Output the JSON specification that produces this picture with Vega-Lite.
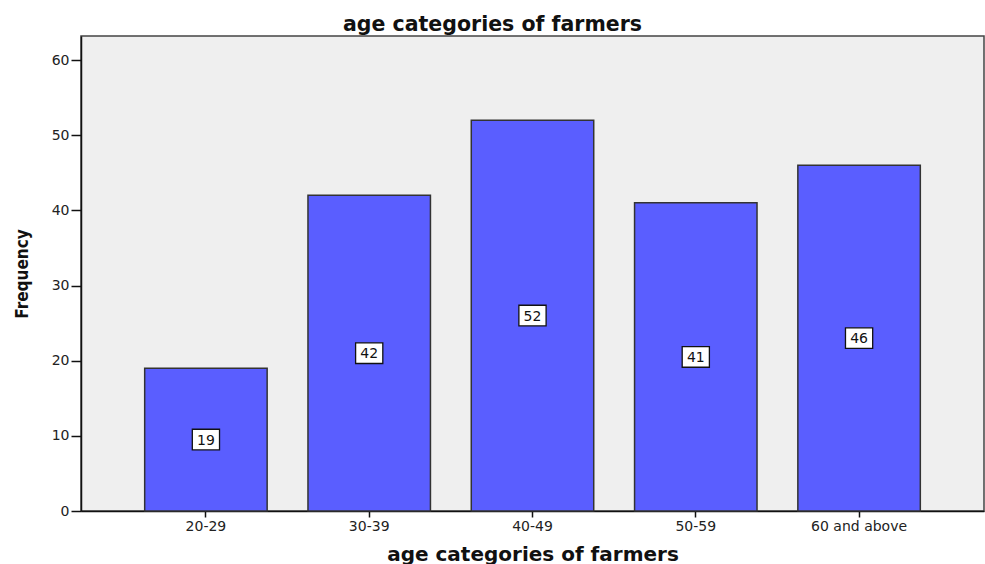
{
  "$schema": "https://vega.github.io/schema/vega-lite/v6.json",
  "autosize": {"type": "none"},
  "padding": {"left": 81, "top": 36, "right": 1, "bottom": 53},
  "width": 903,
  "height": 475,
  "background": "white",
  "title": {
    "text": "age categories of farmers",
    "font": "DejaVu Sans",
    "fontSize": 20.5,
    "fontWeight": "bold",
    "color": "#111",
    "anchor": "middle",
    "frame": "group",
    "baseline": "bottom",
    "offset": 5,
    "dx": -40,
    "dy": 24
  },
  "config": {
    "view": {"fill": "#EFEFEF", "stroke": "#444", "strokeWidth": 1.5},
    "axis": {
      "grid": false,
      "domainColor": "#111",
      "domainWidth": 1.5,
      "tickColor": "#111",
      "tickWidth": 1.5,
      "labelFont": "DejaVu Sans",
      "labelFontSize": 14,
      "labelColor": "#222",
      "titleFont": "DejaVu Sans",
      "titleFontWeight": "bold",
      "titleColor": "#111"
    }
  },
  "data": {
    "values": [
      {"age": "20-29", "frequency": 19},
      {"age": "30-39", "frequency": 42},
      {"age": "40-49", "frequency": 52},
      {"age": "50-59", "frequency": 41},
      {"age": "60 and above", "frequency": 46}
    ]
  },
  "encoding": {
    "x": {
      "field": "age",
      "type": "nominal",
      "sort": null,
      "scale": {"paddingInner": 0.25, "paddingOuter": 0.39},
      "axis": {
        "title": "age categories of farmers",
        "titleFontSize": 20,
        "titleBaseline": "alphabetic",
        "titleY": 49,
        "labelAngle": 0,
        "tickSize": 6,
        "labelPadding": 2
      }
    }
  },
  "layer": [
    {
      "mark": {"type": "bar", "fill": "#5A5EFF", "stroke": "#333", "strokeWidth": 1.5},
      "encoding": {
        "y": {
          "field": "frequency",
          "type": "quantitative",
          "scale": {"domain": [0, 63.2], "nice": false},
          "axis": {
            "title": "Frequency",
            "titleFont": "DejaVu Sans Condensed, Liberation Sans Narrow, DejaVu Sans",
            "titleFontSize": 17,
            "titleBaseline": "alphabetic",
            "titleX": -54,
            "titleY": 237.5,
            "values": [0, 10, 20, 30, 40, 50, 60],
            "tickSize": 10,
            "labelPadding": 2
          }
        }
      }
    },
    {
      "transform": [{"calculate": "datum.frequency / 2", "as": "mid"}],
      "mark": {
        "type": "point",
        "shape": "M-1,-0.76L1,-0.76L1,0.76L-1,0.76Z",
        "size": 740,
        "filled": true,
        "fill": "white",
        "stroke": "#111",
        "strokeWidth": 1.3,
        "opacity": 1
      },
      "encoding": {
        "y": {"field": "mid", "type": "quantitative"}
      }
    },
    {
      "transform": [{"calculate": "datum.frequency / 2", "as": "mid"}],
      "mark": {
        "type": "text",
        "font": "DejaVu Sans",
        "fontSize": 14,
        "color": "#111",
        "baseline": "middle",
        "dy": 1
      },
      "encoding": {
        "y": {"field": "mid", "type": "quantitative"},
        "text": {"field": "frequency", "type": "quantitative"}
      }
    }
  ]
}
